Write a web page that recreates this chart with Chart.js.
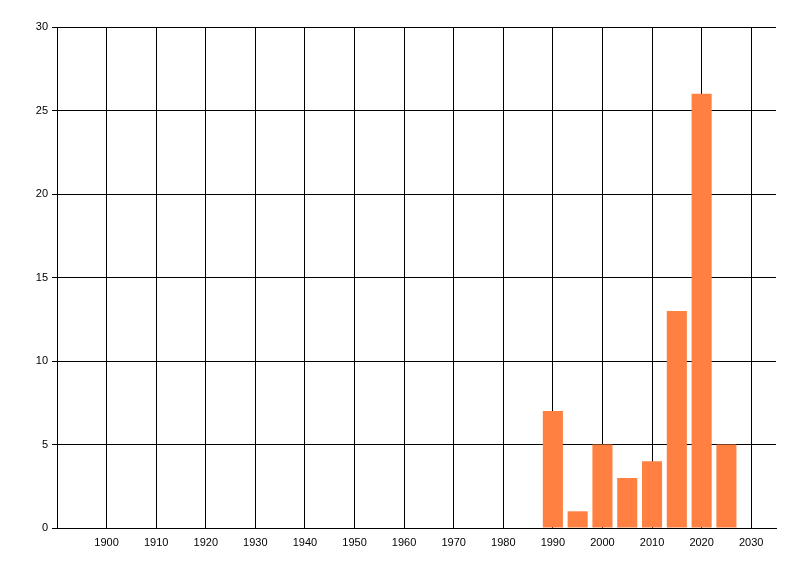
<!DOCTYPE html>
<html>
<head>
<meta charset="utf-8">
<script src="https://cdn.jsdelivr.net/npm/chart.js@4"></script>
<style>
  html, body { margin: 0; padding: 0; background: #fff; }
  #wrap { width: 800px; height: 576px; }
</style>
</head>
<body>
<div id="wrap"><canvas id="chart" width="800" height="576"></canvas></div>
<script>
// years and counts
const years = [1990, 1995, 2000, 2005, 2010, 2015, 2020, 2025];
const counts = [7, 1, 5, 3, 4, 13, 26, 5];
const xTicks = [1900, 1910, 1920, 1930, 1940, 1950, 1960, 1970, 1980, 1990, 2000, 2010, 2020, 2030];
const yTicks = [0, 5, 10, 15, 20, 25, 30];

const points = years.map((y, i) => ({ x: y, y: counts[i] }));

Chart.defaults.font.family = "'Liberation Sans', Arial, sans-serif";
Chart.defaults.font.size = 11;
Chart.defaults.color = "#000";

new Chart(document.getElementById("chart"), {
    type: "bar",
    data: {
        datasets: [{
            data: points,
            backgroundColor: "rgb(255,128,64)",
            borderWidth: 0,
            barPercentage: 0.81,
            categoryPercentage: 1
        }]
    },
    options: {
        responsive: false,
        animation: false,
        layout: { padding: { top: 27, right: 24, left: 0, bottom: 0 } },
        plugins: { legend: { display: false }, tooltip: { enabled: false } },
        scales: {
            x: {
                type: "linear",
                min: 1890,
                max: 2035,
                offset: false,
                afterBuildTicks: s => { s.ticks = xTicks.map(v => ({ value: v })); },
                afterFit: s => { s.height = 48; },
                ticks: { maxRotation: 0, autoSkip: false, padding: 8, callback: v => String(v) },
                grid: { color: "#000", lineWidth: 1, drawTicks: false, offset: false },
                border: { color: "#000", width: 1 }
            },
            y: {
                min: 0,
                max: 30,
                afterBuildTicks: s => { s.ticks = yTicks.map(v => ({ value: v })); },
                afterFit: s => { s.width = 57; },
                ticks: { padding: 4 },
                grid: { color: "#000", lineWidth: 1, tickLength: 5 },
                border: { color: "#000", width: 1 }
            }
        }
    }
});
</script>
</body>
</html>
